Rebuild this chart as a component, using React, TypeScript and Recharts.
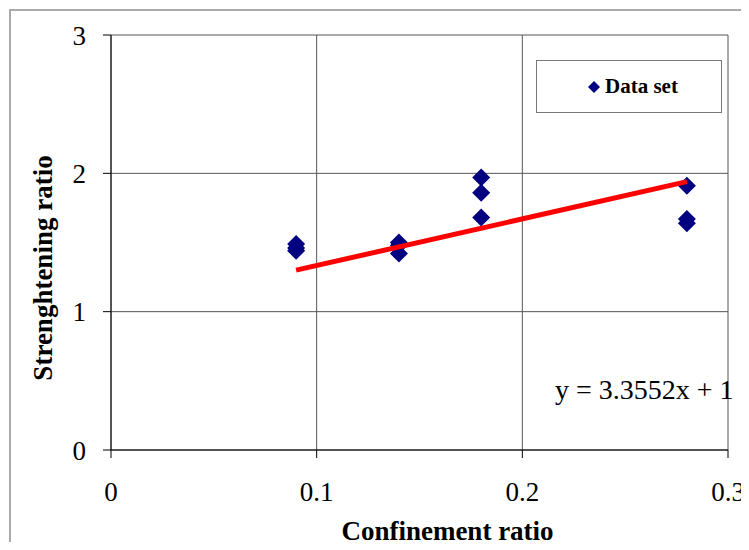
import React from "react"
import {
  ComposedChart,
  Scatter,
  XAxis,
  YAxis,
  CartesianGrid,
  Legend,
} from "recharts"

// values
const confinement = [0.09, 0.09, 0.09, 0.14, 0.14, 0.14, 0.18, 0.18, 0.18, 0.28, 0.28, 0.28]
const strengthening = [1.49, 1.46, 1.44, 1.5, 1.48, 1.42, 1.97, 1.86, 1.68, 1.91, 1.67, 1.64]

const trendX = [0.09, 0.28]
const trendY = [1.3, 1.94]

const xTicks = [0, 0.1, 0.2, 0.3]
const yTicks = [0, 1, 2, 3]

const seriesName = "Data set"
const equation = "y = 3.3552x + 1"
const xTitle = "Confinement ratio"
const yTitle = "Strenghtening ratio"

const points = confinement.map((x, i) => ({ x, y: strengthening[i] }))
const trend = trendX.map((x, i) => ({ x, y: trendY[i] }))

const FONT = "'Liberation Serif', 'Times New Roman', serif"
const NAVY = "#000080"

const Diamond = (props: any) => {
  const { cx, cy } = props
  const r = 9
  return <path d={`M${cx},${cy - r}L${cx + r},${cy}L${cx},${cy + r}L${cx - r},${cy}Z`} fill={NAVY} />
}

const LegendBox = () => (
  <div
    style={{
      width: 186,
      height: 53,
      boxSizing: "border-box",
      border: "1px solid #777",
      background: "#fff",
      display: "flex",
      alignItems: "center",
      paddingLeft: 50,
      fontFamily: FONT,
      fontWeight: "bold",
      fontSize: 21,
    }}
  >
    <svg width={14} height={14} style={{ marginRight: 4 }}>
      <path d="M7,1L13,7L7,13L1,7Z" fill={NAVY} />
    </svg>
    {seriesName}
  </div>
)

export default function App() {
  return (
    <div style={{ position: "relative", width: 749, height: 550, margin: -8, background: "#fff", overflow: "hidden" }}>
      <div
        style={{
          position: "absolute",
          left: 9,
          top: 9,
          width: 760,
          height: 560,
          borderTop: "2px solid #aaa",
          borderLeft: "2px solid #aaa",
        }}
      />
      <ComposedChart
        width={749}
        height={550}
        margin={{ top: 35, right: 21, left: 0, bottom: 0 }}
        style={{ position: "absolute", left: 0, top: 0 }}
      >
        <CartesianGrid stroke="#555" strokeWidth={1} />
        <XAxis
          type="number"
          dataKey="x"
          domain={[0, 0.3]}
          ticks={xTicks}
          height={100}
          stroke="#000"
          tickSize={8}
          tickMargin={24}
          tick={{ fill: "#000", fontSize: 27, fontFamily: FONT }}
          label={{
            content: (p: any) => {
              const vb = p.viewBox
              return (
                <text
                  x={vb.x + vb.width / 2 + 28}
                  y={540}
                  textAnchor="middle"
                  fontFamily={FONT}
                  fontWeight="bold"
                  fontSize={27}
                  fill="#000"
                >
                  {xTitle}
                </text>
              )
            },
          }}
        />
        <YAxis
          type="number"
          dataKey="y"
          domain={[0, 3]}
          ticks={yTicks}
          width={111}
          stroke="#000"
          tickSize={8}
          tickMargin={17}
          tick={{ fill: "#000", fontSize: 27, fontFamily: FONT }}
          label={{
            content: () => (
              <text
                x={52}
                y={268}
                transform="rotate(-90, 52, 268)"
                textAnchor="middle"
                fontFamily={FONT}
                fontWeight="bold"
                fontSize={27}
                fill="#000"
              >
                {yTitle}
              </text>
            ),
          }}
        />
        <Scatter name={seriesName} data={points} shape={<Diamond />} isAnimationActive={false} />
        <Scatter
          name="trend"
          data={trend}
          line={{ stroke: "#ff0000", strokeWidth: 5 }}
          shape={() => <g />}
          isAnimationActive={false}
        />
        <Legend
          layout="horizontal"
          verticalAlign="middle"
          align="center"
          content={() => <LegendBox />}
          wrapperStyle={{ position: "absolute", left: 536, top: 60, width: 186, height: 53 }}
        />
        <text x={555} y={399} fontFamily={FONT} fontSize={28} fill="#000">
          {equation}
        </text>
      </ComposedChart>
    </div>
  )
}
